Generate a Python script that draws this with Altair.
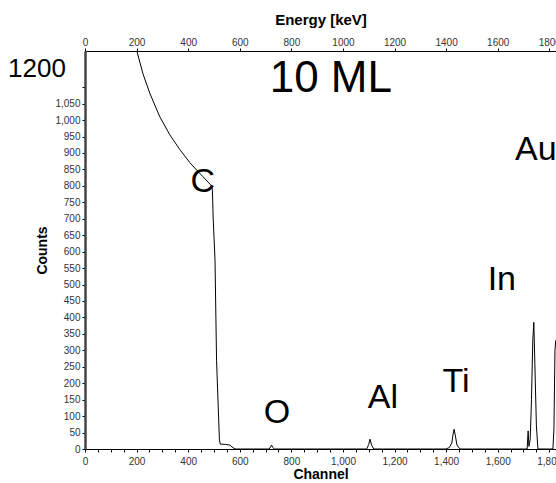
import altair as alt
import pandas as pd

# Spectrum (channel, counts)
channel = [195, 202, 225, 252, 290, 329, 368, 407, 433, 457, 491, 494, 497, 504, 510, 517, 521, 524, 545, 562, 570, 582,
           714, 719, 723, 728, 734,
           1092, 1100, 1105, 1111, 1120,
           1398, 1412, 1422, 1427, 1431, 1436, 1442, 1454,
           1714, 1718, 1721, 1726, 1731, 1736, 1740, 1744, 1750, 1756,
           1814, 1818, 1822, 1825, 1840]
counts = [1240, 1207, 1140, 1080, 1010, 955, 910, 870, 848, 828, 800, 785, 700, 575, 270, 118, 30, 15, 14, 12, 6, 0,
          0, 6, 12, 5, 0,
          0, 14, 30, 12, 0,
          0, 4, 18, 45, 60, 40, 12, 0,
          0, 55, 8, 30, 150, 330, 385, 260, 70, 0,
          0, 60, 300, 330, 335]

# Element annotations
element_labels = ["C", "O", "Al", "Ti", "In", "Au"]
element_channel = [457, 744, 1155, 1438, 1616, 1748]
element_counts = [812, 109, 155, 204, 514, 909]

sample_label = ["10 ML"]
sample_channel = [953]
sample_counts = [1125]

max_label = ["1200"]
max_channel = [-186]
max_counts = [1155]

X_DOMAIN = [0, 1826]
Y_DOMAIN = [0, 1210]
FONT = "Liberation Sans"

spec = pd.DataFrame({"channel": channel, "counts": counts})
elem = pd.DataFrame({"channel": element_channel, "counts": element_counts, "label": element_labels})
samp = pd.DataFrame({"channel": sample_channel, "counts": sample_counts, "label": sample_label})
mx = pd.DataFrame({"channel": max_channel, "counts": max_counts, "label": max_label})

xscale = alt.Scale(domain=X_DOMAIN, nice=False, zero=False)
yscale = alt.Scale(domain=Y_DOMAIN, nice=False)

bottom_axis = alt.Axis(
    orient="bottom", values=list(range(0, 1826, 50)),
    labelExpr="datum.value % 200 == 0 ? format(datum.value, ',') : ''",
    tickSize=3, labelPadding=4, labelFontSize=10, labelFont=FONT, labelColor="#333",
    domainColor="black", tickColor="black", grid=False, labelFlush=False, labelOverlap=False,
    title="Channel", titleFont=FONT, titleFontSize=14, titleFontWeight="bold",
    titleY=29, titleBaseline="alphabetic",
)
left_axis = alt.Axis(
    orient="left", values=list(range(0, 1101, 50)),
    labelExpr="datum.value > 1050 ? '' : format(datum.value, ',')",
    tickSize=3, labelPadding=2, labelFontSize=10, labelFont=FONT, labelColor="#333",
    domainColor="#444", domainWidth=2.5, tickColor="black", grid=False, labelOverlap=False,
    title="Counts", titleFont=FONT, titleFontSize=14, titleFontWeight="bold",
    titleX=-39, titleY=199, titleAngle=270, titleBaseline="alphabetic", titleAlign="center",
)
top_axis = alt.Axis(
    orient="top", values=list(range(0, 1801, 200)), format="d",
    tickSize=3, labelPadding=1, labelFontSize=10, labelFont=FONT, labelColor="#333",
    domainColor="black", tickColor="black", grid=False, labelFlush=False, labelOverlap=False,
    title="Energy [keV]", titleFont=FONT, titleFontSize=15, titleFontWeight="bold",
    titleY=-27, titleBaseline="alphabetic",
)

line = alt.Chart(spec).mark_line(color="black", strokeWidth=1, clip=True).encode(
    x=alt.X("channel:Q", scale=xscale, axis=bottom_axis),
    y=alt.Y("counts:Q", scale=yscale, axis=left_axis),
)

elem_text = alt.Chart(elem).mark_text(font=FONT, fontSize=34, color="black", align="center", baseline="middle").encode(
    x=alt.X("channel:Q", scale=xscale, axis=top_axis),
    y=alt.Y("counts:Q", scale=yscale, axis=None),
    text="label:N",
)
samp_text = alt.Chart(samp).mark_text(font=FONT, fontSize=44, color="black", align="center", baseline="middle").encode(
    x=alt.X("channel:Q", scale=xscale, axis=None),
    y=alt.Y("counts:Q", scale=yscale, axis=None),
    text="label:N",
)
max_text = alt.Chart(mx).mark_text(font=FONT, fontSize=26, color="black", align="center", baseline="middle").encode(
    x=alt.X("channel:Q", scale=xscale, axis=None),
    y=alt.Y("counts:Q", scale=yscale, axis=None),
    text="label:N",
)

chart = alt.layer(line, elem_text, samp_text, max_text).resolve_axis(
    x="independent", y="independent"
).properties(
    width=471, height=398,
    padding={"left": 85, "top": 51, "right": 0, "bottom": 34},
    autosize=alt.AutoSizeParams(type="none"),
    background="white",
).configure_view(stroke=None)

chart.save("out.html", embed_options={"renderer": "svg", "actions": False})
